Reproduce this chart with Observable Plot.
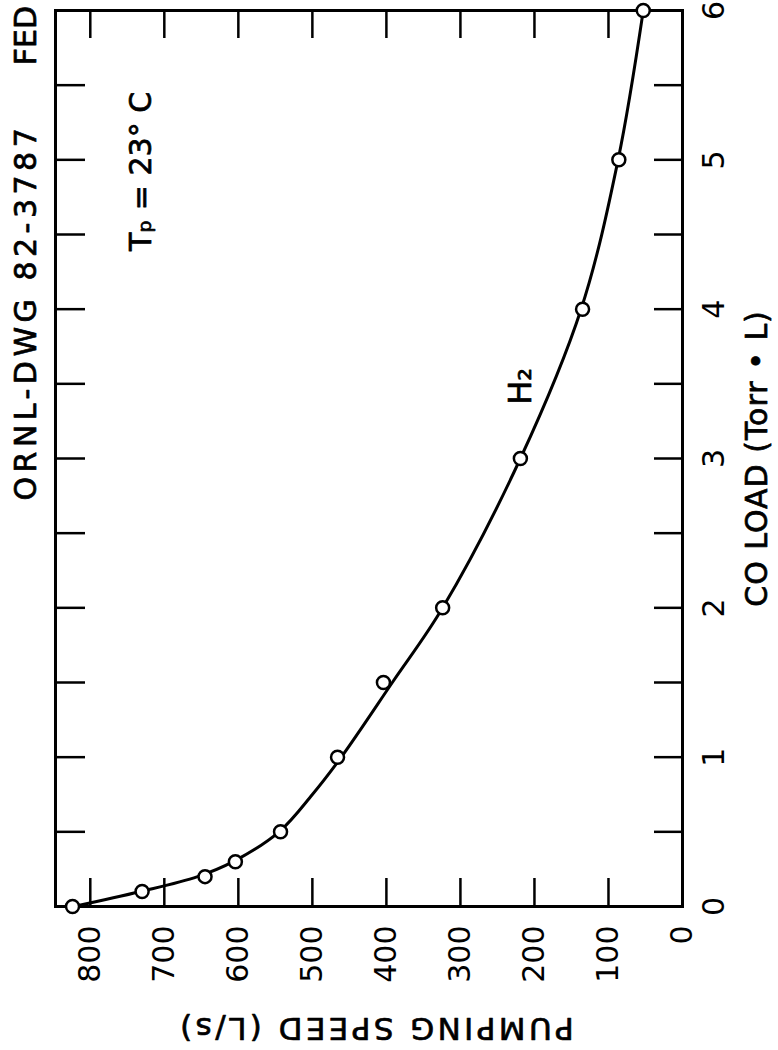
<!DOCTYPE html>
<html>
<head>
<meta charset="utf-8">
<script src="https://cdn.jsdelivr.net/npm/d3@7"></script>
<script src="https://cdn.jsdelivr.net/npm/@observablehq/plot@0.6"></script>
<style>
  html, body { margin: 0; padding: 0; background: #fff; overflow: hidden; }
  #chart svg { display: block; }
</style>
</head>
<body>
<div id="chart"></div>
<script>
// Measured points: CO load (Torr·L) vs pumping speed (L/s)
const loads  = [0, 0.1, 0.2, 0.3, 0.5, 1, 1.5, 2, 3, 4, 5, 6];
const speeds = [824, 730, 645, 604, 543, 466, 404, 324, 219, 135, 86, 53];
// Smooth fitted curve
const curveLoads  = [0, 0.1, 0.2, 0.3, 0.5, 0.75, 1, 1.5, 2, 3, 4, 5, 6];
const curveSpeeds = [822, 732, 655, 607, 545, 500, 461, 392, 324, 219, 137, 87, 53];
// Axis ticks
const speedTicks = [0, 100, 200, 300, 400, 500, 600, 700, 800];
const loadTicks = [0, 1, 2, 3, 4, 5, 6];
const loadHalfTicks = [0.5, 1, 1.5, 2, 2.5, 3, 3.5, 4, 4.5, 5, 5.5];
const speedInnerTicks = [100, 200, 300, 400, 500, 600, 700, 800];
// Text
const xLabel = "CO LOAD (Torr • L)";
const yLabel = "PUMPING SPEED (L/s)";
const drawingId = "ORNL-DWG 82-3787";
const corner = "FED";
const tempNote = "Tₚ = 23° C";
const seriesName = "H₂";

const points = loads.map((l, i) => ({load: l, speed: speeds[i]}));
const curve = curveLoads.map((l, i) => ({load: l, speed: curveSpeeds[i]}));

const W = 778, H = 1050;
const mL = 55, mR = 96, mT = 10, mB = 144;
const frameW = W - mL - mR, frameH = H - mT - mB;
const tick = 28;
const font = "DejaVu Sans";
const ink = {fill: "#000", stroke: "#000", strokeWidth: 0.7};

const chart = Plot.plot({
  width: W,
  height: H,
  marginLeft: mL,
  marginRight: mR,
  marginTop: mT,
  marginBottom: mB,
  style: {fontFamily: font, fontSize: "30px", background: "#fff", color: "#000"},
  x: {domain: [847, 0], axis: null},
  y: {domain: [0, 6], axis: null},
  marks: [
    // inward ticks on all four sides
    Plot.tickX(speedInnerTicks, {x: d => d, insetTop: frameH - tick, stroke: "#000", strokeWidth: 2.5}),
    Plot.tickX(speedInnerTicks, {x: d => d, insetBottom: frameH - tick, stroke: "#000", strokeWidth: 2.5}),
    Plot.tickY(loadHalfTicks, {y: d => d, insetRight: frameW - tick - 2, stroke: "#000", strokeWidth: 2.5}),
    Plot.tickY(loadHalfTicks, {y: d => d, insetLeft: frameW - tick, stroke: "#000", strokeWidth: 2.5}),
    Plot.frame({stroke: "#000", strokeWidth: 3}),
    // tick labels
    Plot.axisX({ticks: speedTicks, tickFormat: d3.format("d"), anchor: "bottom", tickSize: 0, tickRotate: -90, tickPadding: 19,
      textAnchor: "end", lineAnchor: "middle", label: null, fontSize: 30, ...ink}),
    Plot.axisY({ticks: loadTicks, tickFormat: d3.format("d"), anchor: "right", tickSize: 0, tickRotate: -90, tickPadding: 20,
      textAnchor: "middle", lineAnchor: "top", label: null, fontSize: 30, ...ink}),
    // curve and points
    Plot.line(curve, {x: "speed", y: "load", curve: "catmull-rom", stroke: "#000", strokeWidth: 3}),
    Plot.dot(points, {x: "speed", y: "load", r: 6.5, fill: "#fff", stroke: "#000", strokeWidth: 2.5}),
    // annotations
    Plot.text([tempNote], {x: 731, y: 4.39, text: d => d, rotate: -90, textAnchor: "start", lineAnchor: "middle", fontSize: 30, ...ink}),
    Plot.text([seriesName], {x: 218, y: 3.36, text: d => d, rotate: -90, textAnchor: "start", lineAnchor: "middle", fontSize: 32, ...ink}),
    Plot.text([drawingId], {x: 886, y: 3.98, text: d => d, rotate: -90, textAnchor: "middle", lineAnchor: "middle", fontSize: 30, ...ink}),
    Plot.text([corner], {x: 886, y: 6.03, text: d => d, rotate: -90, textAnchor: "end", lineAnchor: "middle", fontSize: 30, ...ink}),
    Plot.text([xLabel], {x: -101, y: 3.0, text: d => d, rotate: -90, textAnchor: "middle", lineAnchor: "middle", fontSize: 30, ...ink}),
    Plot.text([yLabel], {x: 415, y: -0.81, text: d => d, rotate: 180, textAnchor: "middle", lineAnchor: "middle", fontSize: 31, ...ink})
  ]
});

// letter spacing for the hand-lettered labels
chart.querySelectorAll("text").forEach(t => {
  const s = t.textContent;
  if (s === drawingId) t.setAttribute("letter-spacing", "4.5");
  if (s === yLabel) t.setAttribute("letter-spacing", "3.4");
  if (s === xLabel) t.setAttribute("letter-spacing", "1");
});

document.getElementById("chart").appendChild(chart);
</script>
</body>
</html>
